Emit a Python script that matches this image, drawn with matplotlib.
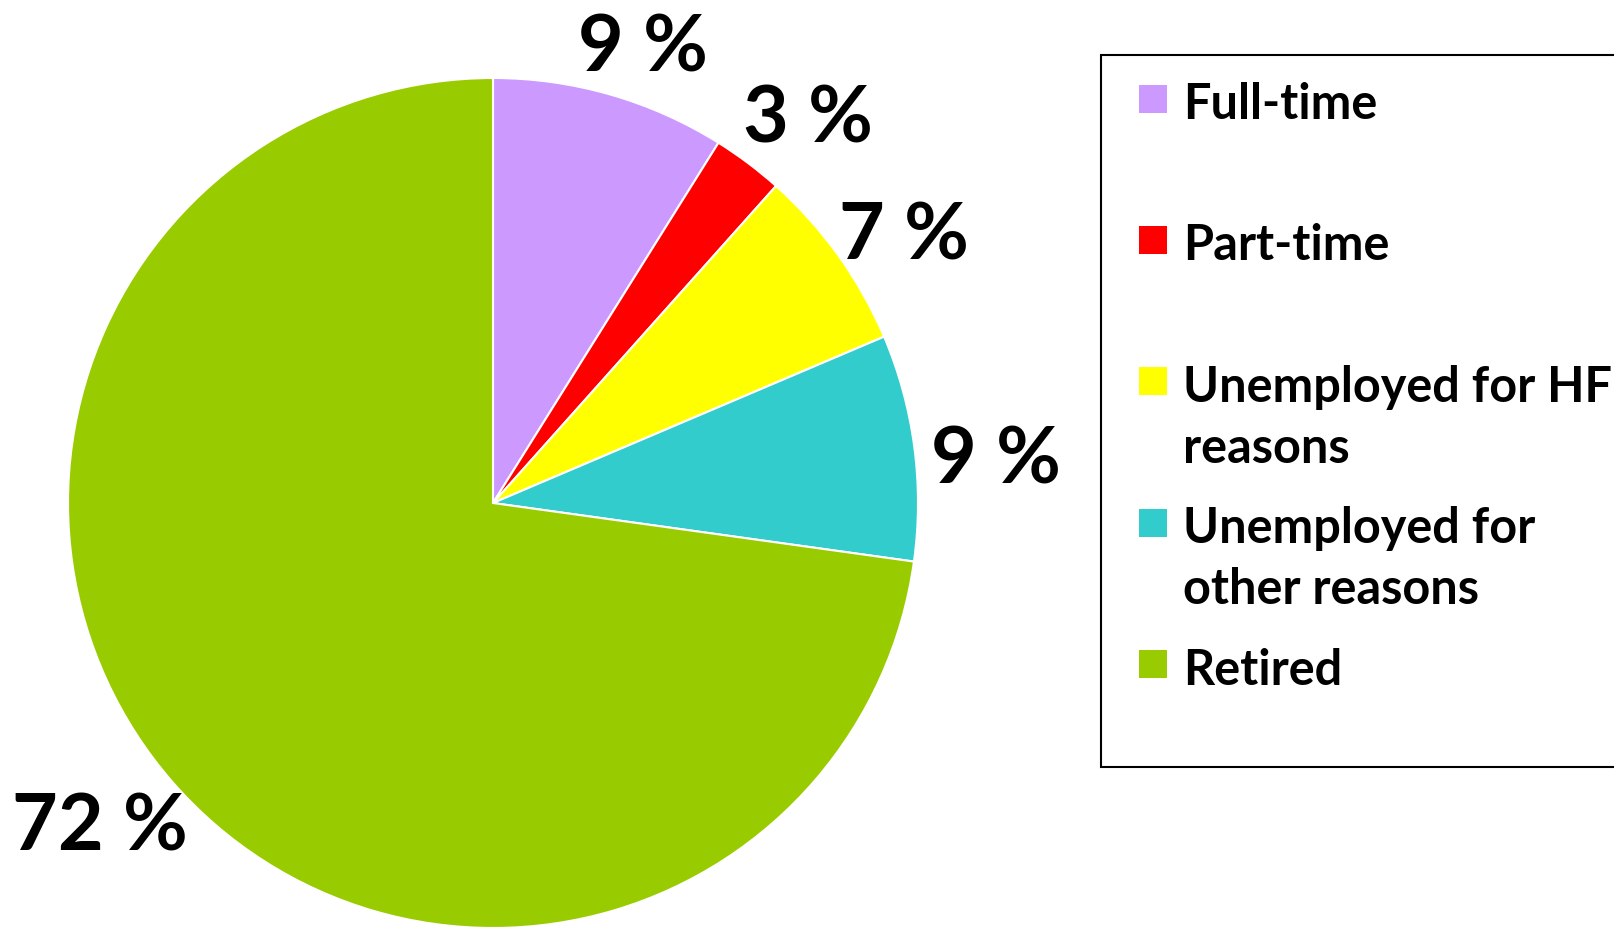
import matplotlib
matplotlib.use("Agg")
import numpy as np
import matplotlib.pyplot as plt
from matplotlib.patches import Rectangle

# ---- data ----
categories = ["Full-time", "Part-time", "Unemployed for HF\nreasons",
              "Unemployed for\nother reasons", "Retired"]
values = [8.9, 2.7, 7.0, 8.6, 72.8]
pct_labels = ["9 %", "3 %", "7 %", "9 %", "72 %"]
colors = ["#CC99FF", "#FF0000", "#FFFF00", "#33CCCC", "#99CC00"]

W, H = 1614, 928
DPI = 100
plt.rcParams['font.family'] = ['Lato', 'DejaVu Sans']
fig = plt.figure(figsize=(W / DPI, H / DPI), dpi=DPI)
ax = fig.add_axes([0, 0, 1, 1])

cx, cy, R = 493, 504, 425  # pixel centre / radius
wedges, texts = ax.pie(values, labels=pct_labels, colors=colors, startangle=90,
                       counterclock=False, radius=1, labeldistance=1.18,
                       wedgeprops=dict(edgecolor="white", linewidth=1.5),
                       textprops=dict(fontsize=57, fontweight="bold", color="black"))
# label placement: radial distance per label, slight clockwise shift
label_r = [1.14, 1.18, 1.16, 1.19, 1.19]
for w, t, rr in zip(wedges, texts, label_r):
    th = np.deg2rad((w.theta1 + w.theta2) / 2 - 2.0)
    t.set_position((rr * np.cos(th), rr * np.sin(th) - 0.015))
    t.set_ha("center")
    t.set_va("center")
ax.set_xlim(-cx / R, (W - cx) / R)
ax.set_ylim(-(H - cy) / R, cy / R)
ax.set_aspect("auto")
ax.axis("off")

# ---- legend (drawn in pixel space) ----
def fx(x):
    return x / W

def fy(y):
    return 1 - y / H

box = Rectangle((fx(1101), fy(768)), fx(1700) - fx(1101), fy(56) - fy(768),
                transform=fig.transFigure, facecolor="white", edgecolor="black",
                linewidth=1.5, clip_on=False)
fig.patches.append(box)

for i, (lab, col) in enumerate(zip(categories, colors)):
    yc = 99.5 + i * 141.4
    sq = Rectangle((fx(1139), fy(yc + 14)), fx(28), 28 / H,
                   transform=fig.transFigure, facecolor=col, edgecolor="none")
    fig.patches.append(sq)
    for j, line in enumerate(lab.split("\n")):
        fig.text(fx(1183), fy(yc + 19.5 + j * 61), line, fontsize=35,
                 fontweight="bold", ha="left", va="baseline", color="black")

fig.savefig("out.png", dpi=DPI, facecolor="white")
